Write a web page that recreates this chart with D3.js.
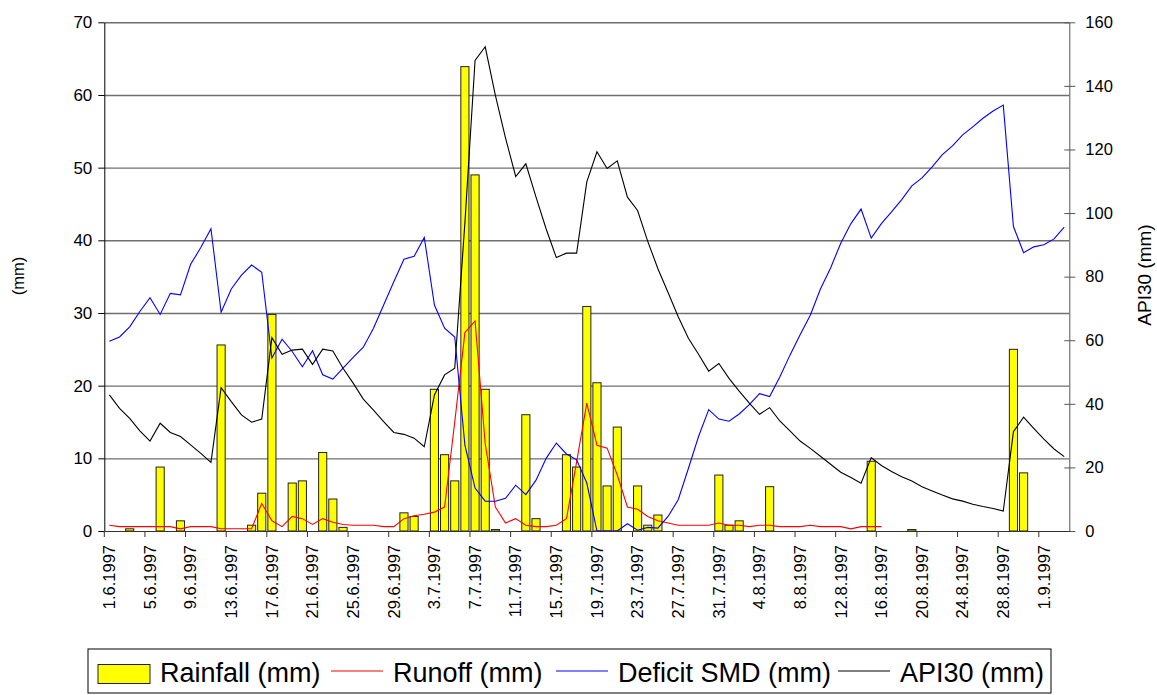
<!DOCTYPE html>
<html>
<head>
<meta charset="utf-8">
<script src="https://cdn.jsdelivr.net/npm/d3@7"></script>
<style>
  html, body { margin: 0; padding: 0; background: #fff; }
  svg { display: block; }
  text { font-family: "Liberation Sans", Arial, sans-serif; fill: #000; }
</style>
</head>
<body>
<svg id="chart" width="1157" height="695"></svg>
<script>
// ---------- DATA ----------
const categories = [
  "1.6.1997","2.6.1997","3.6.1997","4.6.1997","5.6.1997","6.6.1997","7.6.1997","8.6.1997","9.6.1997","10.6.1997",
  "11.6.1997","12.6.1997","13.6.1997","14.6.1997","15.6.1997","16.6.1997","17.6.1997","18.6.1997","19.6.1997","20.6.1997",
  "21.6.1997","22.6.1997","23.6.1997","24.6.1997","25.6.1997","26.6.1997","27.6.1997","28.6.1997","29.6.1997","30.6.1997",
  "1.7.1997","2.7.1997","3.7.1997","4.7.1997","5.7.1997","6.7.1997","7.7.1997","8.7.1997","9.7.1997","10.7.1997",
  "11.7.1997","12.7.1997","13.7.1997","14.7.1997","15.7.1997","16.7.1997","17.7.1997","18.7.1997","19.7.1997","20.7.1997",
  "21.7.1997","22.7.1997","23.7.1997","24.7.1997","25.7.1997","26.7.1997","27.7.1997","28.7.1997","29.7.1997","30.7.1997",
  "31.7.1997","1.8.1997","2.8.1997","3.8.1997","4.8.1997","5.8.1997","6.8.1997","7.8.1997","8.8.1997","9.8.1997",
  "10.8.1997","11.8.1997","12.8.1997","13.8.1997","14.8.1997","15.8.1997","16.8.1997","17.8.1997","18.8.1997","19.8.1997",
  "20.8.1997","21.8.1997","22.8.1997","23.8.1997","24.8.1997","25.8.1997","26.8.1997","27.8.1997","28.8.1997","29.8.1997",
  "30.8.1997","31.8.1997","1.9.1997","2.9.1997","3.9.1997"
];

const tickLabels = [
  "1.6.1997","5.6.1997","9.6.1997","13.6.1997","17.6.1997","21.6.1997","25.6.1997","29.6.1997",
  "3.7.1997","7.7.1997","11.7.1997","15.7.1997","19.7.1997","23.7.1997","27.7.1997","31.7.1997",
  "4.8.1997","8.8.1997","12.8.1997","16.8.1997","20.8.1997","24.8.1997","28.8.1997","1.9.1997"
];

const rainfall = [
  0,0,0.3,0,0,8.8,0,1.4,0,0,
  0,25.6,0,0,0.8,5.2,29.8,0,6.6,6.9,
  0,10.8,4.4,0.5,0,0,0,0,0,2.5,
  2.0,0,19.5,10.5,6.9,63.9,49.0,19.5,0.2,0,
  0,16.0,1.7,0,0,10.5,8.8,30.9,20.4,6.2,
  14.3,0,6.2,0.8,2.2,0,0,0,0,0,
  7.7,0.8,1.4,0,0,6.1,0,0,0,0,
  0,0,0,0,0,9.6,0,0,0,0.2,
  0,0,0,0,0,0,0,0,0,25.0,
  8.0,0,0,0,0
];

const runoff = [
  0.8,0.6,0.6,0.6,0.6,0.6,0.6,0.3,0.6,0.6,
  0.6,0.3,0.3,0.3,0.3,3.8,1.4,0.6,2.0,1.7,
  0.9,1.7,1.2,0.9,0.8,0.8,0.8,0.6,0.6,1.7,
  2.1,2.3,2.6,3.3,15.0,27.3,28.9,12.0,3.3,1.1,
  1.7,0.8,0.6,0.6,0.8,1.7,9.5,17.6,11.8,11.4,
  7.7,3.3,3.0,2.0,1.4,1.1,0.8,0.8,0.8,0.8,
  1.1,0.8,0.8,0.6,0.8,0.8,0.6,0.6,0.6,0.8,
  0.6,0.6,0.6,0.3,0.6,0.6,0.6
];

const deficitSMD = [
  26.1,26.7,28.1,30.2,32.1,29.8,32.7,32.5,36.7,39.0,
  41.6,30.1,33.3,35.2,36.6,35.6,23.8,26.4,24.7,22.6,
  24.8,21.5,20.9,22.4,23.9,25.3,27.9,31.1,34.3,37.4,
  37.8,40.4,31.1,27.9,26.7,11.8,5.9,4.1,4.1,4.5,
  6.3,5.0,7.0,10.0,12.1,10.6,9.8,6.6,0,0,
  0,1.0,0.1,0.5,0.4,2.0,4.3,8.6,13.0,16.7,
  15.4,15.1,16.1,17.4,18.9,18.5,21.2,24.2,27.0,29.7,
  33.3,36.2,39.6,42.3,44.3,40.3,42.3,43.9,45.6,47.5,
  48.6,50.1,51.8,53.0,54.5,55.6,56.8,57.8,58.6,41.9,
  38.3,39.1,39.4,40.2,41.8
];

const api30 = [
  42.8,38.6,35.4,31.5,28.3,33.9,31.0,29.7,27.1,24.4,
  21.6,45.1,40.7,36.5,34.2,35.2,60.8,55.6,56.9,57.2,
  52.4,57.2,56.6,51.2,46.5,41.5,38.0,34.4,31.0,30.4,
  29.2,26.5,42.8,49.1,51.2,97.0,148.0,152.3,137.0,123.6,
  111.5,115.5,105.0,95.0,86.0,87.4,87.4,109.8,119.3,114.0,
  116.4,105.0,100.8,91.1,82.5,75.0,67.4,60.6,55.6,50.3,
  52.7,48.0,44.0,40.2,36.7,38.8,34.6,31.5,28.3,26.0,
  23.5,21.0,18.5,16.8,15.0,23.1,20.6,18.7,17.1,15.7,
  13.9,12.6,11.3,10.1,9.4,8.4,7.7,7.1,6.3,31.2,
  35.8,32.3,28.9,25.8,23.4
];

const leftTicks = [0,10,20,30,40,50,60,70];
const rightTicks = [0,20,40,60,80,100,120,140,160];

const legendItems = [
  {label: "Rainfall (mm)", type: "bar", color: "#ffff00"},
  {label: "Runoff (mm)", type: "line", color: "#ff0000"},
  {label: "Deficit SMD (mm)", type: "line", color: "#0000ff"},
  {label: "API30 (mm)", type: "line", color: "#000000"}
];

// ---------- LAYOUT ----------
const svg = d3.select("#chart");
const L = 104.3, R = 1069.3, T = 22.3, B = 531;

const x = d3.scaleBand().domain(categories).range([L, R]).paddingInner(0).paddingOuter(0);
const step = x.step();
const cx = c => x(c) + step / 2;
const yL = d3.scaleLinear().domain([0, 70]).range([B, T]);
const yR = d3.scaleLinear().domain([0, 160]).range([B, T]);

// gridlines
svg.append("g")
  .attr("transform", `translate(${L},0)`)
  .call(d3.axisLeft(yL).tickValues(leftTicks.filter(v => v > 0)).tickSize(-(R - L)).tickFormat(""))
  .call(g => g.select(".domain").remove())
  .call(g => g.selectAll(".tick line").attr("stroke", "#6f6f6f").attr("stroke-width", 1.4));

// bars
const barW = step * 0.8;
svg.append("g").selectAll("rect")
  .data(categories.map((c, i) => ({c, v: rainfall[i]})).filter(d => d.v > 0))
  .join("rect")
  .attr("x", d => cx(d.c) - barW / 2)
  .attr("width", barW)
  .attr("y", d => yL(d.v))
  .attr("height", d => B - yL(d.v))
  .attr("fill", "#ffff00")
  .attr("stroke", "#222")
  .attr("stroke-width", 1);

// lines
function drawLine(values, yScale, color) {
  const line = d3.line().x((d, i) => cx(categories[i])).y(d => yScale(d));
  svg.append("path")
    .datum(values)
    .attr("d", line)
    .attr("fill", "none")
    .attr("stroke", color)
    .attr("stroke-width", 1.1)
    .attr("stroke-linejoin", "miter");
}
drawLine(runoff, yL, "#ff0000");
drawLine(deficitSMD, yL, "#0000ff");
drawLine(api30, yR, "#000000");

// left axis
svg.append("g")
  .attr("transform", `translate(${L},0)`)
  .call(d3.axisLeft(yL).tickValues(leftTicks).tickSizeInner(6).tickSizeOuter(0).tickPadding(6))
  .call(g => g.select(".domain").attr("stroke", "#000"))
  .call(g => g.selectAll(".tick line").attr("stroke", "#000"))
  .call(g => g.selectAll(".tick text").attr("font-size", 17).attr("font-family", "Liberation Sans, Arial, sans-serif"));

// right axis
svg.append("g")
  .attr("transform", `translate(${R},0)`)
  .call(d3.axisRight(yR).tickValues(rightTicks).tickSizeInner(6).tickSizeOuter(0).tickPadding(10))
  .call(g => g.select(".domain").attr("stroke", "#555"))
  .call(g => g.selectAll(".tick line").attr("x1", -5).attr("stroke", "#555"))
  .call(g => g.selectAll(".tick text").attr("font-size", 16.5).attr("font-family", "Liberation Sans, Arial, sans-serif"));

// bottom axis
const xAxisG = svg.append("g").attr("transform", `translate(0,${B})`);
xAxisG.call(d3.axisBottom(x).tickValues(tickLabels).tickSize(0).tickPadding(0))
  .call(g => g.select(".domain").attr("stroke", "#333"))
  .call(g => g.selectAll(".tick text")
    .attr("font-size", 16.5)
    .attr("font-family", "Liberation Sans, Arial, sans-serif")
    .attr("text-anchor", "end")
    .attr("transform", "rotate(-90)")
    .attr("x", -14)
    .attr("y", 0)
    .attr("dy", "0.35em"));
// tick marks between categories every 4 days
xAxisG.selectAll("line.sep")
  .data(tickLabels)
  .join("line")
  .attr("class", "sep")
  .attr("x1", d => x(d)).attr("x2", d => x(d))
  .attr("y1", 0).attr("y2", 6)
  .attr("stroke", "#333");

// axis titles
svg.append("text")
  .attr("transform", "translate(24,276) rotate(-90)")
  .attr("text-anchor", "middle")
  .attr("font-size", 16.5)
  .text("(mm)");
svg.append("text")
  .attr("transform", "translate(1151,275) rotate(-90)")
  .attr("text-anchor", "middle")
  .attr("font-size", 19)
  .text("API30 (mm)");

// legend
const lg = svg.append("g");
lg.append("rect")
  .attr("x", 88).attr("y", 649).attr("width", 963).attr("height", 44)
  .attr("fill", "#fff").attr("stroke", "#000").attr("stroke-width", 1);
const legendX = [98, 331, 556, 838];
const symW = 52;
legendItems.forEach((it, i) => {
  const x0 = legendX[i];
  if (it.type === "bar") {
    lg.append("rect").attr("x", x0).attr("y", 664.5).attr("width", symW).attr("height", 19)
      .attr("fill", it.color).attr("stroke", "#222").attr("stroke-width", 1);
  } else {
    lg.append("line").attr("x1", x0).attr("x2", x0 + symW).attr("y1", 671).attr("y2", 671)
      .attr("stroke", it.color).attr("stroke-width", 1.1);
  }
  lg.append("text")
    .attr("x", x0 + symW + 10)
    .attr("y", 681.5)
    .attr("font-size", 27)
    .text(it.label);
});
</script>
</body>
</html>
